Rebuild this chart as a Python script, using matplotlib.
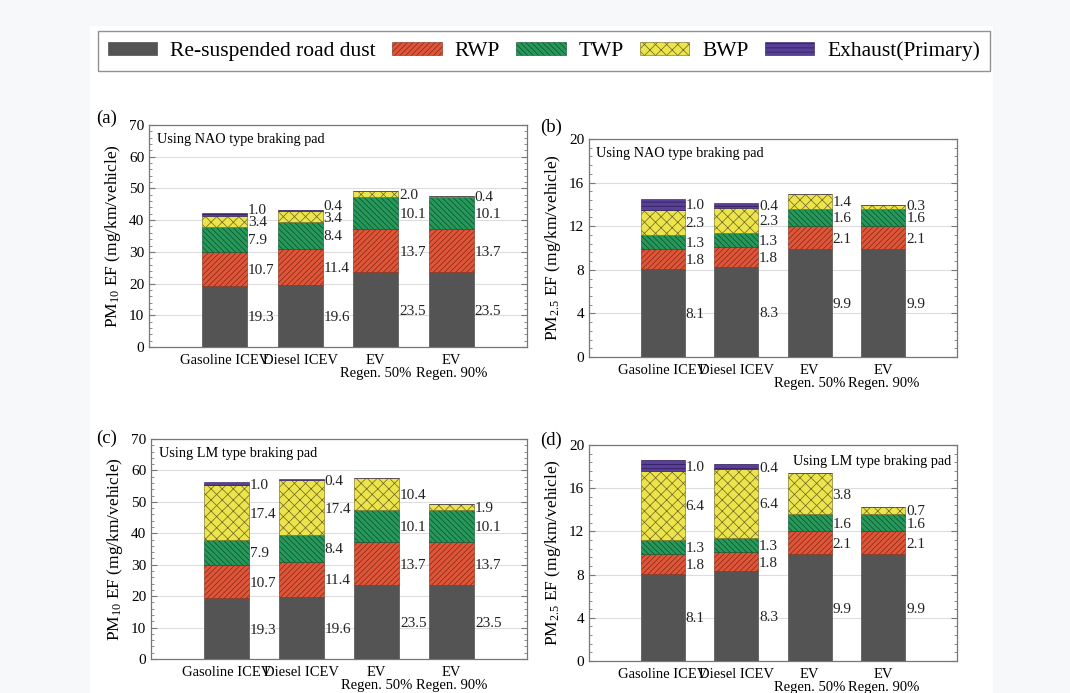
import matplotlib
matplotlib.use("Agg")
import matplotlib.pyplot as plt
from matplotlib.patches import Patch, Rectangle
from matplotlib.ticker import MultipleLocator
import numpy as np

plt.rcParams['font.family'] = ['Liberation Serif', 'DejaVu Serif']
plt.rcParams['mathtext.fontset'] = 'custom'
plt.rcParams['mathtext.rm'] = 'Liberation Serif'
plt.rcParams['mathtext.it'] = 'Liberation Serif:italic'
plt.rcParams['hatch.linewidth'] = 0.5

# categories
vehicles = ["Gasoline ICEV", "Diesel ICEV", "EV\nRegen. 50%", "EV\nRegen. 90%"]
sources = ["Re-suspended road dust", "RWP", "TWP", "BWP", "Exhaust(Primary)"]

# PM10 values (mg/km/vehicle)
pm10_road = [19.3, 19.6, 23.5, 23.5]
pm10_rwp = [10.7, 11.4, 13.7, 13.7]
pm10_twp = [7.9, 8.4, 10.1, 10.1]
pm10_bwp_nao = [3.4, 3.4, 2.0, 0.4]
pm10_bwp_lm = [17.4, 17.4, 10.4, 1.9]
pm10_exh = [1.0, 0.4, 0.0, 0.0]

# PM2.5 values (mg/km/vehicle)
pm25_road = [8.1, 8.3, 9.9, 9.9]
pm25_rwp = [1.8, 1.8, 2.1, 2.1]
pm25_twp = [1.3, 1.3, 1.6, 1.6]
pm25_bwp_nao = [2.3, 2.3, 1.4, 0.3]
pm25_bwp_lm = [6.4, 6.4, 3.8, 0.7]
pm25_exh = [1.0, 0.4, 0.0, 0.0]

colors = ['#545454', '#e05537', '#25985a', '#ece44c', '#5a3f98']
edges = ['#3a3a3a', '#7a2a18', '#0f4d2b', '#6b6420', '#2a1a55']
hatches = [None, '//////', '\\\\\\\\\\\\', 'xxx', '----']

fig = plt.figure(figsize=(10.70, 6.93), dpi=100, facecolor='#f7f8fa')
fig.patches.append(Rectangle((90 / 1070, 0), 903 / 1070, 1 - 26 / 693,
                             transform=fig.transFigure, facecolor='white',
                             edgecolor='none', zorder=-10))


def draw_panel(rect, stacks, ymax, ystep, ylabel, note, note_right, letter, letter_xy):
    ax = fig.add_axes(rect)
    x = np.arange(1, 5)
    # minimum gap between value labels, ~12 px
    gap = 12.0 / (rect[3] * 693) * ymax
    bottom = np.zeros(4)
    last_y = np.full(4, -100.0)
    for k, vals in enumerate(stacks):
        vals = np.array(vals)
        ax.bar(x, vals, 0.6, bottom=bottom, color=colors[k], edgecolor=edges[k],
               hatch=hatches[k], linewidth=0.4, zorder=3)
        for i in range(4):
            if vals[i] > 0:
                ty = max(bottom[i] + vals[i] / 2, last_y[i] + gap)
                last_y[i] = ty
                ax.text(x[i] + 0.31, ty, "%.1f" % vals[i],
                        fontsize=11, color='#222222', va='center_baseline', ha='left', zorder=4)
        bottom = bottom + vals
    ax.set_xlim(0, 5)
    ax.set_ylim(0, ymax)
    ax.set_xticks(x)
    ax.set_xticklabels(vehicles, fontsize=10.5, linespacing=1.0)
    ax.yaxis.set_major_locator(MultipleLocator(ystep))
    ax.yaxis.set_minor_locator(MultipleLocator(ystep / 5))
    ax.tick_params(axis='x', length=0, pad=5)
    ax.tick_params(axis='y', which='both', direction='in', left=True, right=True,
                   labelsize=11, color='#777777')
    ax.tick_params(axis='y', which='major', length=4)
    ax.tick_params(axis='y', which='minor', length=2)
    ax.grid(axis='y', color='#dddddd', linewidth=0.8, zorder=0)
    for s in ax.spines.values():
        s.set_color('#777777')
        s.set_linewidth(0.9)
    ax.set_ylabel(ylabel, fontsize=12.5, labelpad=4)
    if note_right:
        ax.text(0.985, 0.955, note, transform=ax.transAxes, ha='right', va='top', fontsize=10.3)
    else:
        ax.text(0.02, 0.965, note, transform=ax.transAxes, ha='left', va='top', fontsize=10.3)
    fig.text(letter_xy[0] / 1070, 1 - letter_xy[1] / 693, letter, fontsize=13.5,
             ha='left', va='center')
    return ax


draw_panel([149 / 1070, 1 - 347 / 693, 378 / 1070, 222 / 693],
           [pm10_road, pm10_rwp, pm10_twp, pm10_bwp_nao, pm10_exh], 70, 10,
           "PM$_{10}$ EF (mg/km/vehicle)", "Using NAO type braking pad", False, "(a)", (96, 118))
draw_panel([589 / 1070, 1 - 357 / 693, 368 / 1070, 218 / 693],
           [pm25_road, pm25_rwp, pm25_twp, pm25_bwp_nao, pm25_exh], 20, 4,
           "PM$_{2.5}$ EF (mg/km/vehicle)", "Using NAO type braking pad", False, "(b)", (540, 127))
draw_panel([151 / 1070, 1 - 659 / 693, 376 / 1070, 220 / 693],
           [pm10_road, pm10_rwp, pm10_twp, pm10_bwp_lm, pm10_exh], 70, 10,
           "PM$_{10}$ EF (mg/km/vehicle)", "Using LM type braking pad", False, "(c)", (96, 438))
draw_panel([589 / 1070, 1 - 661 / 693, 368 / 1070, 216 / 693],
           [pm25_road, pm25_rwp, pm25_twp, pm25_bwp_lm, pm25_exh], 20, 4,
           "PM$_{2.5}$ EF (mg/km/vehicle)", "Using LM type braking pad", True, "(d)", (540, 440))

handles = [Patch(facecolor=colors[k], edgecolor=edges[k], hatch=hatches[k], linewidth=0.4)
           for k in range(5)]
leg = fig.legend(handles, sources, loc='center', bbox_to_anchor=(544 / 1070, 1 - 51 / 693),
                 ncol=5, fontsize=15.5, frameon=True, fancybox=False, handlelength=2.3,
                 handleheight=0.55, columnspacing=0.75, handletextpad=0.6,
                 borderpad=0.45)
leg.get_frame().set_edgecolor('#777777')
leg.get_frame().set_linewidth(1.0)

fig.savefig("out.png", dpi=100, facecolor=fig.get_facecolor())
